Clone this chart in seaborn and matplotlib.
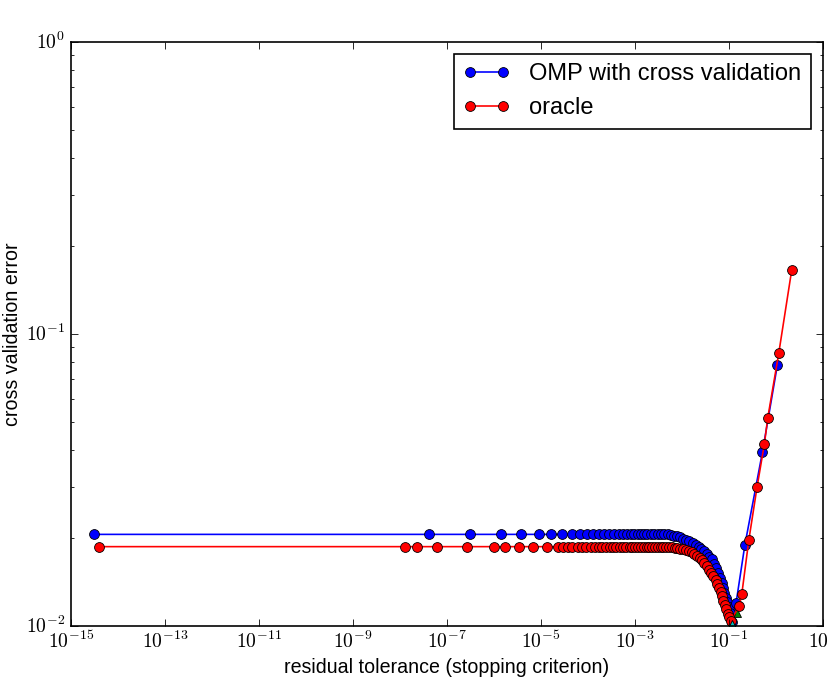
import numpy as np
import pandas as pd
import matplotlib as mpl
import matplotlib.pyplot as plt
import seaborn as sns

# tolerance sweep, OMP with cross validation
tol_cv = [3.02e-15, 4.07e-8, 3.16e-7, 1.38e-6, 3.80e-6, 8.91e-6, 1.66e-5, 2.88e-5,
          4.57e-5, 6.92e-5, 9.55e-5, 1.32e-4, 1.74e-4, 2.24e-4, 2.88e-4, 3.63e-4,
          4.57e-4, 5.62e-4, 6.76e-4, 8.32e-4, 9.77e-4, 1.15e-3, 1.35e-3, 1.58e-3,
          1.86e-3, 2.19e-3, 2.63e-3, 3.09e-3, 3.63e-3, 4.27e-3, 5.01e-3, 5.89e-3,
          6.92e-3, 8.13e-3, 9.33e-3, 1.05e-2, 1.23e-2, 1.45e-2, 1.70e-2, 2.00e-2,
          2.29e-2, 2.63e-2, 3.02e-2, 3.47e-2, 3.89e-2, 4.37e-2, 4.90e-2, 5.37e-2,
          5.89e-2, 6.46e-2, 7.08e-2, 7.59e-2, 8.13e-2, 8.71e-2, 9.33e-2, 1.00e-1,
          1.07e-1, 1.17e-1, 1.44e-1, 2.21e-1, 5.24e-1, 1.09]
err_cv = [0.0206, 0.0206, 0.0206, 0.0206, 0.0206, 0.0206, 0.0206, 0.0206,
          0.0206, 0.0206, 0.0206, 0.0206, 0.0206, 0.0206, 0.0206, 0.0206,
          0.0206, 0.0206, 0.0206, 0.0206, 0.0206, 0.0206, 0.0206, 0.0206,
          0.0206, 0.0206, 0.0206, 0.0206, 0.0206, 0.0206, 0.0206, 0.0205,
          0.0204, 0.0203, 0.0201, 0.0199, 0.0197, 0.0195, 0.0192, 0.0190,
          0.0187, 0.0183, 0.0180, 0.0176, 0.0173, 0.0169, 0.0163, 0.0158,
          0.0152, 0.0146, 0.0140, 0.0135, 0.0130, 0.0125, 0.0121, 0.0116,
          0.0111, 0.0103, 0.0120, 0.0189, 0.0394, 0.0782]

# oracle
tol_or = [3.89e-15, 1.26e-8, 2.29e-8, 6.03e-8, 2.63e-7, 1.00e-6, 1.74e-6, 3.39e-6,
          6.76e-6, 1.35e-5, 2.29e-5, 3.02e-5, 3.72e-5, 4.68e-5, 6.03e-5, 7.41e-5,
          9.33e-5, 1.15e-4, 1.41e-4, 1.70e-4, 2.04e-4, 2.45e-4, 2.95e-4, 3.47e-4,
          4.07e-4, 4.79e-4, 5.62e-4, 6.61e-4, 7.76e-4, 8.91e-4, 1.02e-3, 1.17e-3,
          1.35e-3, 1.55e-3, 1.78e-3, 2.04e-3, 2.34e-3, 2.69e-3, 3.09e-3, 3.55e-3,
          4.07e-3, 4.68e-3, 5.37e-3, 6.17e-3, 7.08e-3, 8.13e-3, 9.33e-3, 1.07e-2,
          1.26e-2, 1.45e-2, 1.66e-2, 1.86e-2, 2.14e-2, 2.40e-2, 2.69e-2, 3.02e-2,
          3.39e-2, 3.80e-2, 4.27e-2, 4.68e-2, 5.25e-2, 5.75e-2, 6.31e-2, 6.76e-2,
          7.24e-2, 7.76e-2, 8.32e-2, 8.91e-2, 9.55e-2, 1.02e-1, 1.10e-1, 1.67e-1,
          1.91e-1, 2.69e-1, 4.04e-1, 5.78e-1, 6.82e-1, 1.17, 2.21]
err_or = [0.0187, 0.0187, 0.0187, 0.0187, 0.0187, 0.0187, 0.0187, 0.0187,
          0.0187, 0.0187, 0.0187, 0.0187, 0.0187, 0.0187, 0.0187, 0.0187,
          0.0187, 0.0187, 0.0187, 0.0187, 0.0187, 0.0187, 0.0187, 0.0187,
          0.0187, 0.0187, 0.0187, 0.0187, 0.0187, 0.0187, 0.0187, 0.0187,
          0.0187, 0.0187, 0.0187, 0.0187, 0.0187, 0.0187, 0.0187, 0.0187,
          0.0187, 0.0187, 0.0186, 0.0186, 0.0185, 0.0185, 0.0184, 0.0183,
          0.0182, 0.0180, 0.0179, 0.0177, 0.0174, 0.0171, 0.0168, 0.0164,
          0.0161, 0.0156, 0.0152, 0.0148, 0.0144, 0.0139, 0.0135, 0.0131,
          0.0127, 0.0122, 0.0118, 0.0114, 0.0110, 0.0107, 0.0104, 0.0117,
          0.0129, 0.0197, 0.0300, 0.0421, 0.0517, 0.0861, 0.166]

# best points
best_or = ([1.41e-1], [0.0112])
best_cv = ([1.19e-1], [0.0101])

plt.style.use('classic')
plt.rcParams['font.family'] = ['Liberation Sans', 'DejaVu Sans']
plt.rcParams['mathtext.fontset'] = 'cm'

df_cv = pd.DataFrame({'tol': tol_cv, 'err': err_cv})
df_or = pd.DataFrame({'tol': tol_or, 'err': err_or})

fig = plt.figure(figsize=(829 / 118, 677 / 118), dpi=118, facecolor='white')
ax = fig.add_axes([0.0862, 0.0753, 0.906, 0.8626])

ax.plot(best_or[0], best_or[1], 'g^', markersize=6, markeredgewidth=0.5)
sns.lineplot(data=df_cv, x='tol', y='err', ax=ax, color='b', marker='o',
             markersize=6, markeredgecolor='k', markeredgewidth=0.5,
             linewidth=1, estimator=None, label='OMP with cross validation')
sns.lineplot(data=df_or, x='tol', y='err', ax=ax, color='r', marker='o',
             markersize=6, markeredgecolor='k', markeredgewidth=0.5,
             linewidth=1, estimator=None, label='oracle')
ax.plot(best_cv[0], best_cv[1], 'c^', markersize=6, markeredgewidth=0.5)

ax.set_xscale('log')
ax.set_yscale('log')
ax.set_xlim(1e-15, 10)
ax.set_ylim(1e-2, 1)

# tex-like tick labels
def pow10(v, pos):
    return r'$10^{%d}$' % int(round(np.log10(v)))

ax.set_xticks([1e-15, 1e-13, 1e-11, 1e-9, 1e-7, 1e-5, 1e-3, 1e-1, 10])
ax.xaxis.set_major_formatter(mpl.ticker.FuncFormatter(pow10))
ax.xaxis.set_minor_locator(mpl.ticker.NullLocator())
ax.set_yticks([1e-2, 1e-1, 1])
ax.yaxis.set_major_formatter(mpl.ticker.FuncFormatter(pow10))
ax.yaxis.set_minor_locator(mpl.ticker.LogLocator(base=10, subs=np.arange(2, 10)))
ax.yaxis.set_minor_formatter(mpl.ticker.NullFormatter())
ax.tick_params(axis='x', pad=3)

ax.set_xlabel('residual tolerance (stopping criterion)')
ax.set_ylabel('cross validation error')
ax.xaxis.set_label_coords(0.5, -0.054)
ax.yaxis.set_label_coords(-0.066, 0.5)
ax.legend(loc='upper right', numpoints=2)

fig.savefig('out.png', dpi=118, facecolor='white')
